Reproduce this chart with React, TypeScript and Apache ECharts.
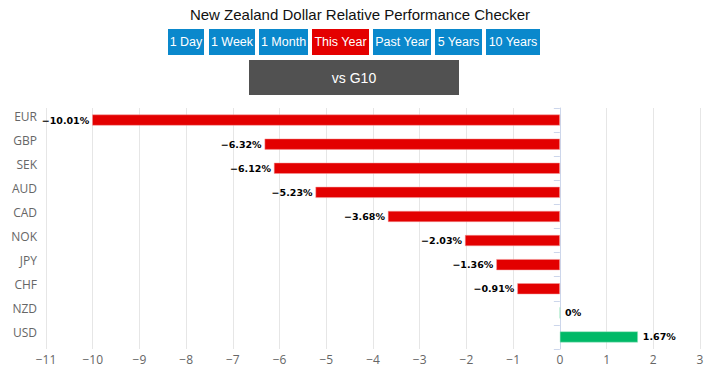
import React, { useEffect, useRef } from "react";
import * as echarts from "echarts";

const categories = ["EUR", "GBP", "SEK", "AUD", "CAD", "NOK", "JPY", "CHF", "NZD", "USD"];
const values = [-10.01, -6.32, -6.12, -5.23, -3.68, -2.03, -1.36, -0.91, 0, 1.67];
const buttons = ["1 Day", "1 Week", "1 Month", "This Year", "Past Year", "5 Years", "10 Years"];
const activeButton = "This Year";
const titleText = "New Zealand Dollar Relative Performance Checker";
const subTitle = "vs G10";

const buttonBoxes = [
  [168, 36], [209, 46], [259, 49], [312, 57], [373, 58], [435, 47], [486, 54],
];

export default function App() {
  const ref = useRef<HTMLDivElement>(null);
  useEffect(() => {
    document.body.style.margin = "0";
    const chart = echarts.init(ref.current!, null, { renderer: "svg" });
    const graphics: any[] = [
      {
        type: "text",
        x: 360,
        y: 14,
        style: {
          text: titleText,
          font: "15px 'Liberation Sans', Arial, sans-serif",
          fill: "#111",
          align: "center",
          verticalAlign: "middle",
        },
      },
    ];
    buttons.forEach((b, i) => {
      const [x, w] = buttonBoxes[i];
      graphics.push({
        type: "rect",
        shape: { x, y: 29, width: w, height: 26 },
        style: { fill: b === activeButton ? "#e40000" : "#0a88cc" },
      });
      graphics.push({
        type: "text",
        x: x + w / 2,
        y: 42,
        style: {
          text: b,
          font: "12.5px 'Liberation Sans', Arial, sans-serif",
          fill: "#fff",
          align: "center",
          verticalAlign: "middle",
        },
      });
    });
    graphics.push({
      type: "rect",
      shape: { x: 249, y: 60, width: 210, height: 35 },
      style: { fill: "#515151" },
    });
    graphics.push({
      type: "text",
      x: 354,
      y: 78,
      style: {
        text: subTitle,
        font: "14px 'Liberation Sans', Arial, sans-serif",
        fill: "#fff",
        align: "center",
        verticalAlign: "middle",
      },
    });

    chart.setOption({
      animation: false,
      graphic: graphics,
      grid: { left: 46, right: 19, top: 108, bottom: 29, containLabel: false },
      xAxis: {
        type: "value",
        min: -11,
        max: 3,
        interval: 1,
        axisLine: { show: false },
        axisTick: { show: false },
        splitLine: { show: true, lineStyle: { color: "#e6e6e6", width: 1 } },
        axisLabel: {
          color: "#666",
          fontSize: 12,
          fontFamily: "'Open Sans', sans-serif",
          margin: 4,
          formatter: (v: number) => (v < 0 ? "\u2212" + Math.abs(v) : String(v)),
        },
      },
      yAxis: {
        type: "category",
        data: categories,
        inverse: true,
        axisLine: { show: true, lineStyle: { color: "#ccd6eb" } },
        axisTick: { show: true, length: 6, lineStyle: { color: "#ccd6eb" } },
        axisLabel: {
          color: "#666",
          fontSize: 12,
          fontFamily: "'Open Sans', sans-serif",
          margin: 9,
          verticalAlign: "bottom",
          lineHeight: 8,
        },
        splitLine: { show: false },
      },
      series: [
        {
          type: "bar",
          barWidth: 11,
          data: values.map((v) => ({
            value: v,
            itemStyle: {
              color: v < 0 ? "#e30000" : "#00b967",
              borderColor: v < 0 ? "#f49a9a" : "#9de6c3",
              borderWidth: 0.5,
            },
            label: {
              show: true,
              position: v < 0 ? "left" : "right",
              distance: v < 0 ? 3 : 5,
              formatter: (v < 0 ? "\u2212" + Math.abs(v).toFixed(2) : v === 0 ? "0" : v.toFixed(2)) + "%",
              color: "#000",
              fontSize: 9.5,
              fontWeight: "bold",
              fontFamily: "'DejaVu Sans', Verdana, sans-serif",
            },
          })),
        },
      ],
    });
    return () => chart.dispose();
  }, []);
  return <div ref={ref} style={{ width: 719, height: 378 }} />;
}
